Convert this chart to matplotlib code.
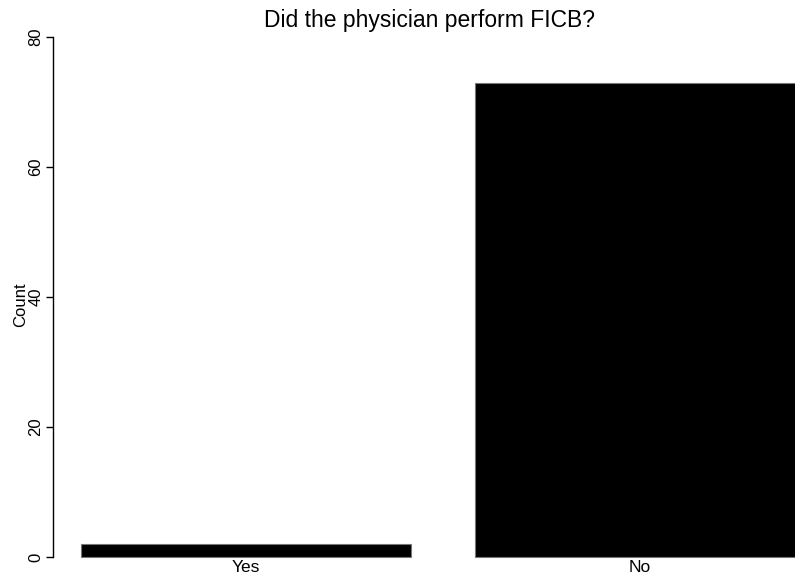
import matplotlib
matplotlib.use("Agg")
from matplotlib import pyplot as plt

plt.rcParams['font.family'] = ['Liberation Sans', 'DejaVu Sans']

# data
categories = ['Yes', 'No']
counts = [2, 73]
y_ticks = [0, 20, 40, 60, 80]

W, H = 795, 579
fig = plt.figure(figsize=(W / 100, H / 100), dpi=100)

# axes placed in pixels: left spine at x=53, y=0 at 557, y=80 at 37
left, right = 53, 795
top, bottom = 30, 557
ax = fig.add_axes([left / W, (H - bottom) / H, (right - left) / W, (bottom - top) / H])

px_per_unit = (557 - 37) / 80
ax.set_ylim(0, 80 + (37 - top) / px_per_unit)
spacing = 394
ax.set_xlim((left - 246) / spacing, (right - 246) / spacing)

x = list(range(len(categories)))
bars = ax.bar(x, counts, width=330 / spacing, color='black', edgecolor='#777777', linewidth=0.8)
for b in bars:
    b.set_clip_on(False)

for s in ['top', 'right', 'bottom']:
    ax.spines[s].set_visible(False)
ax.spines['left'].set_bounds(0, 80)
ax.spines['left'].set_linewidth(1.0)

ax.set_yticks(y_ticks)
ax.set_yticklabels([str(v) for v in y_ticks], rotation=90, va='center', fontsize=12)
ax.tick_params(axis='y', length=5, width=1, pad=2)
ax.set_xticks(x)
ax.set_xticklabels(categories, fontsize=12.5)
ax.tick_params(axis='x', length=0, pad=2)

fig.text(21 / W, 1 - 305 / H, 'Count', rotation=90, ha='center', va='center', fontsize=12)
fig.text(430 / W, 1 - 20 / H, 'Did the physician perform FICB?', ha='center', va='center', fontsize=16.5)

plt.savefig('out.png', dpi=100)
